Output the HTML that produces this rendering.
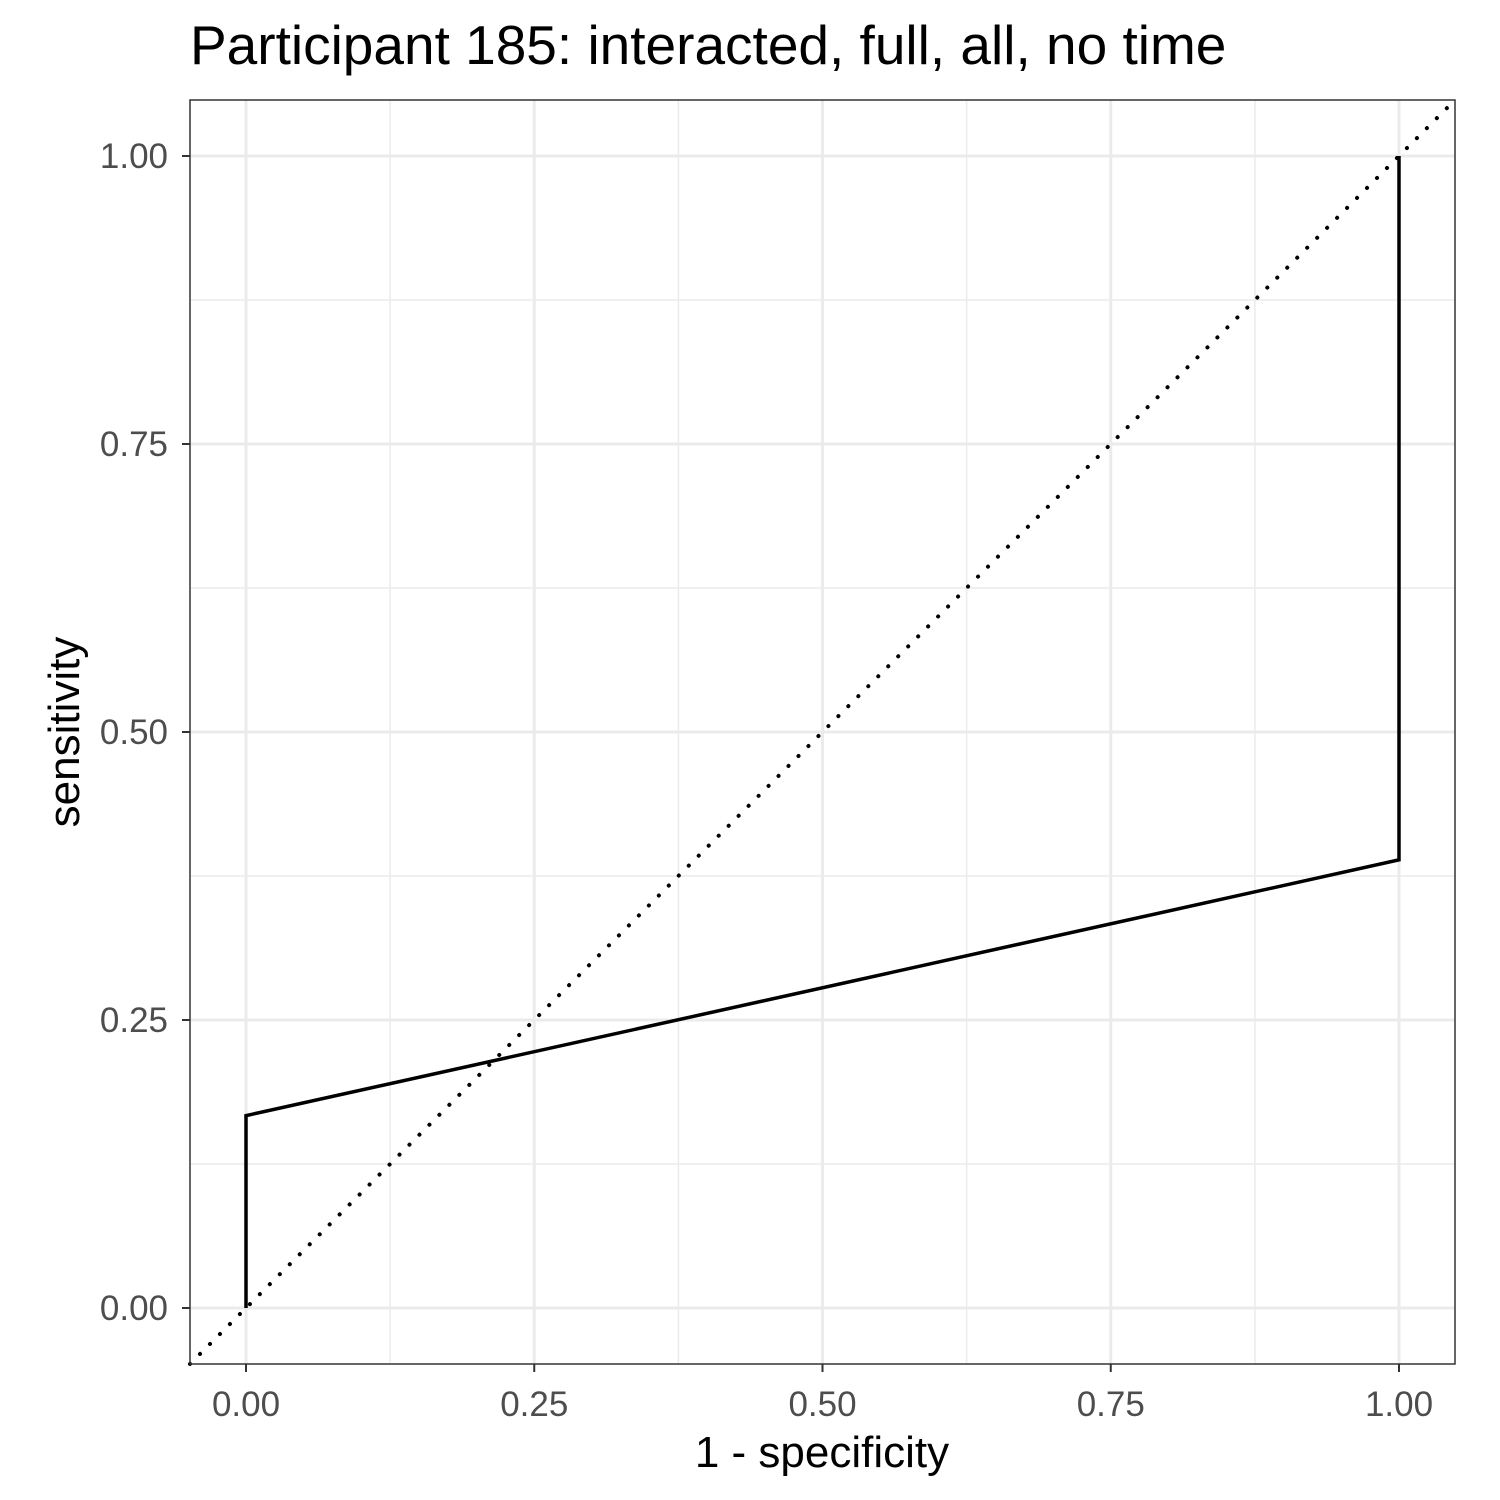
<!DOCTYPE html>
<html><head><meta charset="utf-8"><style>
html,body{margin:0;padding:0;background:#fff;}
svg{display:block;font-family:"Liberation Sans",Arial,sans-serif;}
</style></head><body>
<svg id="chart" width="1500" height="1500" viewBox="0 0 1500 1500">
<text x="190" y="64" font-size="55" fill="#000">Participant 185: interacted, full, all, no time</text>
<rect x="190" y="100" width="1265" height="1264" fill="#fff"/>
<g id="grid"></g>
<g id="marks"></g>
<rect x="190" y="100" width="1265" height="1264" fill="none" stroke="#333" stroke-width="1.5"/>
<g id="axes"></g>
<text x="822" y="1467" font-size="44" text-anchor="middle" fill="#000">1 - specificity</text>
<text transform="translate(79,732) rotate(-90)" font-size="44" text-anchor="middle" fill="#000">sensitivity</text>
</svg>
<script>
const xTicks=[0,0.25,0.5,0.75,1];
const yTicks=[0,0.25,0.5,0.75,1];
const tickLabels=["0.00","0.25","0.50","0.75","1.00"];
const fprValues=[0,0,1,1];
const tprValues=[0,0.167,0.389,1];
const NS="http://www.w3.org/2000/svg";
const sx=v=>246+v*1153;
const sy=v=>1308-v*1152;
function mk(tag,attrs,parent){const e=document.createElementNS(NS,tag);for(const k in attrs)e.setAttribute(k,attrs[k]);parent.appendChild(e);return e;}
const grid=document.getElementById('grid'),marks=document.getElementById('marks'),axes=document.getElementById('axes');
for(let i=0;i<xTicks.length-1;i++){
  const mx=(xTicks[i]+xTicks[i+1])/2, my=(yTicks[i]+yTicks[i+1])/2;
  let a=mk('line',{x1:sx(mx),x2:sx(mx),y1:100,y2:1364,stroke:'#ebebeb','stroke-width':1.5},grid);
  
  
  let b=mk('line',{x1:190,x2:1455,y1:sy(my),y2:sy(my),stroke:'#ebebeb','stroke-width':1.5},grid);
  
  
}
xTicks.forEach((t,i)=>{
  let g=mk('line',{x1:sx(t),x2:sx(t),y1:100,y2:1364,stroke:'#ebebeb','stroke-width':3},grid);
  
  
  let tk=mk('line',{x1:sx(t),x2:sx(t),y1:1364,y2:1372,stroke:'#333','stroke-width':2},axes);
  
  
  let tx=mk('text',{x:sx(t),y:1416,'font-size':35,'text-anchor':'middle',fill:'#4d4d4d'},axes);
  tx.textContent=tickLabels[i];
  
  
});
yTicks.forEach((t,i)=>{
  let g=mk('line',{x1:190,x2:1455,y1:sy(t),y2:sy(t),stroke:'#ebebeb','stroke-width':3},grid);
  
  
  let tk=mk('line',{x1:182,x2:190,y1:sy(t),y2:sy(t),stroke:'#333','stroke-width':2},axes);
  
  
  let tx=mk('text',{x:168,y:sy(t)+12,'font-size':35,'text-anchor':'end',fill:'#4d4d4d'},axes);
  tx.textContent=tickLabels[i];
  
  
});
const x0=(190-246)/1153, x1=(1455-246)/1153;
let d=mk('line',{x1:sx(x0),y1:sy(x0),x2:sx(x1),y2:sy(x1),stroke:'#000','stroke-width':4,'stroke-dasharray':'0.1 14','stroke-linecap':'round'},marks);


let pts=fprValues.map((v,i)=>sx(v)+','+sy(tprValues[i])).join(' ');
let p=mk('polyline',{points:pts,fill:'none',stroke:'#000','stroke-width':3.5},marks);


</script>
</body></html>
